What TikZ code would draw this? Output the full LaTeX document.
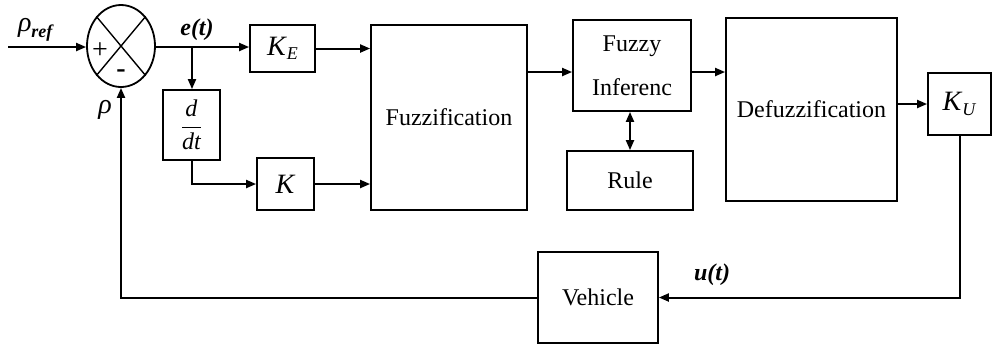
\documentclass[tikz,border=0pt]{standalone}
\usepackage{fontspec}
\setmainfont{LiberationSerif}[Extension=.ttf,UprightFont=*-Regular,BoldFont=*-Bold,ItalicFont=*-Italic,BoldItalicFont=*-BoldItalic]
\usetikzlibrary{arrows.meta,shapes.geometric,calc}
\begin{document}
\begin{tikzpicture}[x=0.5pt,y=-0.5pt,
  line width=1pt,
  arr/.style={-{Triangle[length=5pt,width=4pt]}},
  darr/.style={{Triangle[length=5pt,width=4pt]}-{Triangle[length=5pt,width=4pt]}},
  blk/.style={draw,line width=0.9pt,inner sep=0pt,font=\fontsize{12}{14}\selectfont,align=center},
  lbl/.style={inner sep=0pt,font=\fontsize{12}{14}\selectfont}]
\useasboundingbox (0,0) rectangle (992,345);
% summing junction
\node[draw,ellipse,line width=0.9pt,minimum width=34pt,minimum height=41pt,inner sep=0pt] (sum) at (121,46) {};
\draw[line width=0.7pt] (sum.north east) -- (sum.south west) (sum.north west) -- (sum.south east);
\node[lbl,font=\fontsize{14}{16}\selectfont] (plus) at (100,51) {+};
\node[lbl,font=\fontsize{14}{16}\selectfont\bfseries] (minus) at (121,74) {-};
% blocks
\node[blk,minimum width=32.5pt,minimum height=23.5pt] (KE) at (282.5,48.5) {\fontsize{14}{16}\selectfont\textit{K}\raisebox{-0.35ex}{\fontsize{9}{10}\selectfont\textit{E}}};
\node[blk,minimum width=28.5pt,minimum height=35pt] (dd) at (191.5,125) {$\displaystyle\frac{\textit{d}}{\textit{dt}}$};
\node[blk,minimum width=28.5pt,minimum height=26pt] (K) at (285.5,184) {\fontsize{14}{16}\selectfont\textit{K}};
\node[blk,minimum width=78pt,minimum height=92.5pt] (fuzz) at (449,117.5) {Fuzzification};
\node[blk,minimum width=59pt,minimum height=45.5pt] (FI) at (632,65.5) {Fuzzy\\[8pt]Inferenc};
\node[blk,minimum width=63pt,minimum height=29.5pt] (rule) at (630,180.5) {Rule};
\node[blk,minimum width=85.5pt,minimum height=91.5pt] (defuzz) at (811.5,109.5) {Defuzzification};
\node[blk,minimum width=31.5pt,minimum height=31pt] (KU) at (959.5,104) {\fontsize{14}{16}\selectfont\textit{K}\raisebox{-0.35ex}{\fontsize{9}{10}\selectfont\textit{U}}};
\node[blk,minimum width=60pt,minimum height=45.5pt] (veh) at (598,297.5) {Vehicle};
% labels
\node[lbl] (rhoref) at (36,30) {\fontsize{14}{16}\selectfont\textit{ρ}\raisebox{-0.5ex}{\fontsize{9}{10}\selectfont\textbf{\textit{ref}}}};
\node[lbl] (rho) at (105,110) {\fontsize{14}{16}\selectfont\textit{ρ}};
\node[lbl] (et) at (197,30) {\textbf{\textit{e(t)}}};
\node[lbl] (ut) at (712,275) {\textbf{\textit{u(t)}}};
% connectors
\coordinate (in) at (8,47);
\coordinate (br) at (192,47);
\draw[arr] (in) -- (sum.west |- in);
\draw[arr] (sum.east |- br) -- (KE.west |- br);
\draw[arr] (br) -- (dd.north -| br);
\draw[arr] (dd.south) |- (K.west);
\draw[arr] (KE.east) -- (fuzz.west |- KE.east);
\draw[arr] (K.east) -- (fuzz.west |- K.east);
\draw[arr] (fuzz.east |- 0,72) -- (FI.west |- 0,72);
\draw[arr] (FI.east |- 0,72) -- (defuzz.west |- 0,72);
\draw[darr] (FI.south -| rule.north) -- (rule.north);
\draw[arr] (defuzz.east |- KU.west) -- (KU.west);
\draw[arr] (KU.south) |- (veh.east);
\draw[arr] (veh.west) -| (sum.south);
\end{tikzpicture}
\end{document}
